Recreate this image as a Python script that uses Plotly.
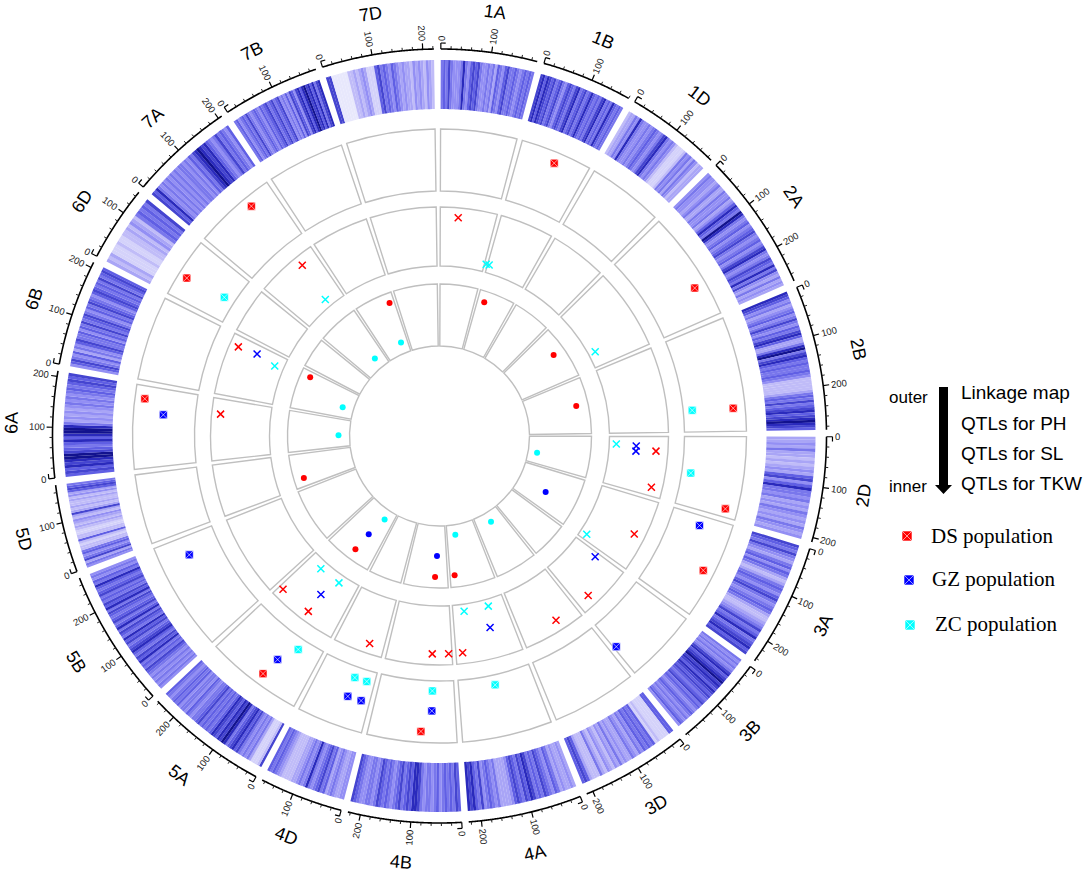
#!/usr/bin/env python3
import numpy as np
import plotly.graph_objects as go

# Circular genome plot: linkage map density on the outside, QTL tracks inside

CHROMS = ['1A', '1B', '1D', '2A', '2B', '2D', '3A', '3B', '3D', '4A', '4B',
          '4D', '5A', '5B', '5D', '6A', '6B', '6D', '7A', '7B', '7D']
LENGTHS = [191, 180, 189, 275, 287, 209, 246, 185, 213, 225, 225,
           166, 244, 274, 175, 211, 211, 150, 208, 193, 222]

# Marker density along each chromosome, 0 = palest, 9 = darkest
DENS_1A = [5,6,5,7,5,4,4,4,5,8,5,4,6,7,6,7,5,4,4,5,4,5,3,6,5,4,6,7,5,5,6,5,4,5,6,5,6,5]
DENS_1B = [7,8,6,8,7,6,7,5,6,7,5,4,6,7,6,5,7,8,5,6,7,5,6,8,6,5,6,5,7,8,5,6,5,8,6,5,6,5]
DENS_1D = [2,3,3,5,4,8,5,4,4,5,4,5,6,5,4,5,7,8,5,4,5,4,2,1,1,1,2,5,4,5,3,5,4,2,3,3]
DENS_2A = [4,5,4,4,3,4,5,3,3,5,4,4,5,3,4,6,8,6,5,9,8,5,4,5,6,4,5,6,7,5,4,5,6,4,5,7,8,5,4,5,7,6,5,8,5,7,4,3,5,3,4,3]
DENS_2B = [8,7,6,4,5,3,4,5,6,4,5,7,5,4,6,5,7,8,6,3,3,5,8,9,5,7,8,6,5,6,5,5,6,5,4,2,2,2,2,2,3,5,6,5,7,5,6,7,8,6,7,8,9,8,7,6]
DENS_2D = [3,3,4,3,5,3,3,2,3,2,3,4,3,6,7,4,6,8,5,5,4,5,3,4,3,5,4,3,4,3,5,4,3,4]
DENS_3A = [7,6,5,7,5,4,3,5,6,4,6,5,3,2,3,5,6,5,4,6,7,5,4,5,6,5,3,2,2,3,4,5,7,5,6,8,5,6,7,8,6,7]
DENS_3B = [5,4,5,4,5,4,5,7,8,6,7,8,9,7,8,7,6,8,7,6,7,6,5,6,7,5,6,5,4,5,6,5,4,5,4,5,6,4]
DENS_3D = [6,6,1,1,1,1,2,1,6,5,6,5,6,4,5,3,4,5,3,3,4,3,5,3,4,2,3,4,2,3,5,2,2,2,3,6,7,6]
DENS_4A = [3,4,3,3,4,3,5,6,4,5,6,7,5,6,5,7,8,6,7,5,6,7,6,4,3,3,3,3,5,4,5,6,5,4,7,5,6,8,7,8]
DENS_4B = [6,7,5,6,5,6,5,4,6,5,4,5,5,4,5,7,8,8,6,7,6,5,7,6,5,4,5,6,5,6,7,5,4,5,5,4,4,5,6,7]
DENS_4D = [4,4,3,3,4,5,4,3,6,5,7,6,5,4,5,8,5,4,5,4,3,3,2,2,2,2,3,4,5,6,5,6]
DENS_5A = [7,2,1,1,1,3,5,4,5,4,5,7,6,8,7,6,5,8,9,7,8,6,7,8,6,5,6,5,6,5,7,6,5,5,4,5,6,4,5,5,4,6,5,6,5,4,5,6]
DENS_5B = [4,5,4,5,4,5,4,5,6,7,5,6,5,8,6,7,5,6,8,7,6,5,7,6,8,5,6,7,5,8,6,5,7,6,5,6,7,5,8,6,7,5,6,5,7,6,5,6,8,5,6,4,5,4]
DENS_5D = [4,5,3,7,5,4,6,5,2,2,1,2,6,2,2,1,1,2,3,2,3,4,2,3,7,3,2,3,2,2,3,2,4,3,6,7,6,5]
DENS_6A = [6,7,6,8,7,8,9,9,7,6,5,6,8,6,8,9,9,8,5,3,4,3,4,3,4,5,4,5,4,5,6,5,6,7,6,7]
DENS_6B = [4,6,7,5,4,6,3,5,4,6,7,5,5,6,4,6,5,7,5,6,7,5,4,6,5,7,6,5,4,6,7,6,5,6,5,7,5,6,7,6]
DENS_6D = [3,2,3,1,1,1,2,1,1,2,2,3,2,4,3,2,5,6,5,6,5,7]
DENS_7A = [7,6,8,5,4,5,4,5,4,5,4,5,4,5,5,4,5,4,6,5,7,8,9,8,7,8,6,5,4,5,7,5,6,5,4,6]
DENS_7B = [5,6,4,5,6,5,7,5,4,5,6,5,4,6,5,6,7,5,6,7,5,6,7,4,5,4,6,4,7,6,4,7,8,6,8,9,7,8,6,8,5,7,8]
DENS_7D = [7,7,0,0,0,0,0,0,2,2,3,2,3,4,3,1,1,1,6,7,5,6,5,4,6,5,4,3,4,3,3,2,4,3,4,3,2,4,3,2]
DENSITY = [DENS_1A, DENS_1B, DENS_1D, DENS_2A, DENS_2B, DENS_2D, DENS_3A,
           DENS_3B, DENS_3D, DENS_4A, DENS_4B, DENS_4D, DENS_5A, DENS_5B,
           DENS_5D, DENS_6A, DENS_6B, DENS_6D, DENS_7A, DENS_7B, DENS_7D]

PH_DS_T = [22.8, 59.9, 84.6, 104.3, 117, 183.6, 216.6, 277.2, 302, 320.7]
PH_DS_R = [296, 295, 295, 295, 296, 296, 296, 297, 298, 297]
PH_GZ_T = [109, 140, 181.6, 199.4, 196.5, 215.9, 244.6, 274.4]
PH_GZ_R = [275, 275, 275, 276, 276, 276, 277, 277]
PH_ZC_T = [84.2, 98.4, 167.4, 181.6, 199.3, 196.5, 213.5, 302.8]
PH_ZC_R = [254, 254, 255, 255, 256, 256, 256, 256]

SL_DS_T = [4.9, 94, 103.6, 116.7, 137, 147.7, 173.9, 177.6, 181.9, 198.6, 216.8, 225.6, 275.7, 293.9, 321.2]
SL_DS_R = [219, 217, 218, 218, 218, 218, 218, 218, 218, 219, 219, 219, 220, 220, 219]
SL_GZ_T = [92.9, 94.4, 127.8, 165.2, 216.8, 294.2]
SL_GZ_R = [197, 197, 197, 198, 198, 200]
SL_ZC_T = [15.2, 16.2, 61.6, 92.6, 123.7, 164, 172, 214.4, 221.8, 293, 320.1]
SL_ZC_R = [178, 178, 177, 177, 177, 177, 177, 178, 178, 179, 178]

TKW_DS_T = [18.5, 54.6, 77.6, 173.8, 181.8, 216.6, 252.8, 294.4, 339.4]
TKW_DS_R = [141, 140, 140, 140, 141, 141, 142, 142, 142]
TKW_GZ_T = [117.8, 181.2, 215.8]
TKW_GZ_R = [120, 120, 121]
TKW_ZC_T = [99.7, 149, 170.9, 213.3, 270.4, 286.5, 320.2, 337.6]
TKW_ZC_R = [99, 100, 100, 100, 101, 101, 101, 101]

# Legend
TRACK_LABELS = ['Linkage map', 'QTLs for PH', 'QTLs for SL', 'QTLs for TKW']
POP_LABELS = ['DS population', 'GZ population', 'ZC population']
POP_COLORS = ['#ff0000', '#0000ff', '#00ffff']

WIDTH, HEIGHT = 1084, 875
CX, CY, RMAX = 439.5, 436, 430
GAP = 1.03
START = 0.2
DEG_PER_CM = (360 - GAP * len(CHROMS)) / sum(LENGTHS)
RINGS = [(245, 307), (170, 229), (90, 152)]
SCALE = [[0, '#e8e8fc'], [0.22, '#c0bcf8'], [0.44, '#9490f4'], [0.67, '#5f5ee4'],
         [0.89, '#2a2abc'], [1, '#12128e']]


def pos(theta, r):
    a = np.radians(theta)
    return CX + r * np.sin(a), CY - r * np.cos(a)


def radial_angle(theta):
    theta = theta % 360
    return theta - 90 if theta < 180 else theta - 270


def tangent_angle(theta):
    theta = theta % 360
    if 90 < theta < 270:
        return theta - 180
    return theta if theta <= 90 else theta - 360


starts = []
cur = START
for length in LENGTHS:
    starts.append(cur)
    cur += length * DEG_PER_CM + GAP
spans = [length * DEG_PER_CM for length in LENGTHS]
mids = [s + w / 2 for s, w in zip(starts, spans)]

fig = go.Figure()

# empty cells of the three QTL tracks
for inner, outer in RINGS:
    fig.add_trace(go.Barpolar(
        theta=mids, width=spans, base=[inner] * len(mids), r=[outer - inner] * len(mids),
        marker=dict(color='white', line=dict(color='#bfbfbf', width=1.4)),
        hoverinfo='skip', showlegend=False))

# density band
band_t, band_w, band_v = [], [], []
for s, w, dens in zip(starts, spans, DENSITY):
    step = w / len(dens)
    for i, v in enumerate(dens):
        band_t.append(s + (i + 0.5) * step)
        band_w.append(step + 0.02)
        band_v.append(v)
fig.add_trace(go.Barpolar(
    theta=band_t, width=band_w, base=[327] * len(band_t), r=[49] * len(band_t),
    marker=dict(color=band_v, cmin=0, cmax=9, colorscale=SCALE, line=dict(width=0)),
    hoverinfo='skip', showlegend=False))

# axis arcs and ticks
arc_t, arc_r, minor_t, minor_r, major_t, major_r = [], [], [], [], [], []
R_AXIS = 387
for s, length in zip(starts, LENGTHS):
    cms = list(range(0, length, 2)) + [length]
    arc_t += [s + c * DEG_PER_CM for c in cms] + [None]
    arc_r += [R_AXIS] * len(cms) + [None]
    for c in range(0, length + 1, 20):
        t = s + c * DEG_PER_CM
        if c % 100 == 0:
            major_t += [t, t, None]
            major_r += [R_AXIS, R_AXIS + 6, None]
        else:
            minor_t += [t, t, None]
            minor_r += [R_AXIS, R_AXIS + 3, None]
    # small hook on the zero tick
    major_t += [s, s + 0.7, None]
    major_r += [R_AXIS + 6, R_AXIS + 6, None]
fig.add_trace(go.Scatterpolar(theta=arc_t, r=arc_r, mode='lines', line=dict(color='black', width=1.6),
                              hoverinfo='skip', showlegend=False))
fig.add_trace(go.Scatterpolar(theta=minor_t, r=minor_r, mode='lines', line=dict(color='#222', width=1),
                              hoverinfo='skip', showlegend=False))
fig.add_trace(go.Scatterpolar(theta=major_t, r=major_r, mode='lines', line=dict(color='black', width=1.2),
                              hoverinfo='skip', showlegend=False))

# QTL tracks
square = dict(symbol='square-x', size=8, line=dict(color='white', width=0.6))
tracks = [
    (PH_DS_T, PH_DS_R, POP_COLORS[0], square), (PH_GZ_T, PH_GZ_R, POP_COLORS[1], square),
    (PH_ZC_T, PH_ZC_R, POP_COLORS[2], square),
    (SL_DS_T, SL_DS_R, POP_COLORS[0], None), (SL_GZ_T, SL_GZ_R, POP_COLORS[1], None),
    (SL_ZC_T, SL_ZC_R, POP_COLORS[2], None),
    (TKW_DS_T, TKW_DS_R, POP_COLORS[0], 'c'), (TKW_GZ_T, TKW_GZ_R, POP_COLORS[1], 'c'),
    (TKW_ZC_T, TKW_ZC_R, POP_COLORS[2], 'c'),
]
for t, r, color, kind in tracks:
    if kind is None:
        m = dict(symbol='x-thin', size=7, line=dict(color=color, width=1.5))
    elif kind == 'c':
        m = dict(symbol='circle', size=6, color=color)
    else:
        m = dict(kind, color=color)
    fig.add_trace(go.Scatterpolar(theta=t, r=r, mode='markers', marker=m, hoverinfo='skip', showlegend=False))

# legend markers live on a hidden pixel-sized cartesian axis
fig.add_trace(go.Scatter(x=[907, 909, 910], y=[536, 580, 625], mode='markers',
                         marker=dict(square, color=POP_COLORS, size=10), hoverinfo='skip', showlegend=False))

ann = []
for name, mid in zip(CHROMS, mids):
    x, y = pos(mid, 428)
    ann.append(dict(x=x, y=y, text=name, textangle=tangent_angle(mid),
                    font=dict(family='Liberation Sans', size=18, color='black')))
for s, length in zip(starts, LENGTHS):
    for c in range(0, length + 1, 100):
        t = s + c * DEG_PER_CM
        x, y = pos(t, 398 if c == 0 else 403)
        ann.append(dict(x=x, y=y, text=str(c), textangle=radial_angle(t),
                        font=dict(family='Liberation Sans', size=9.5, color='#222')))

for text, x, y in zip(TRACK_LABELS, [959] * 4, [392, 423, 453, 483]):
    ann.append(dict(x=x, y=y, text=text, xanchor='left',
                    font=dict(family='Liberation Sans', size=19, color='black')))
ann.append(dict(x=887, y=397, text='outer', xanchor='left', font=dict(family='Liberation Sans', size=17, color='black')))
ann.append(dict(x=887, y=486, text='inner', xanchor='left', font=dict(family='Liberation Sans', size=17, color='black')))
for text, x, y in zip(POP_LABELS, [929, 930, 933], [536, 579, 624]):
    ann.append(dict(x=x, y=y, text=text, xanchor='left',
                    font=dict(family='Liberation Serif', size=21, color='black')))
for a in ann:
    a.update(xref='x', yref='y', showarrow=False)

fig.update_layout(
    width=WIDTH, height=HEIGHT, margin=dict(l=0, r=0, t=0, b=0),
    paper_bgcolor='white', plot_bgcolor='rgba(0,0,0,0)',
    xaxis=dict(range=[0, WIDTH], visible=False, domain=[0, 1]),
    yaxis=dict(range=[HEIGHT, 0], visible=False, domain=[0, 1]),
    polar=dict(
        domain=dict(x=[(CX - RMAX) / WIDTH, (CX + RMAX) / WIDTH],
                    y=[(HEIGHT - CY - RMAX) / HEIGHT, (HEIGHT - CY + RMAX) / HEIGHT]),
        bgcolor='rgba(0,0,0,0)',
        radialaxis=dict(range=[0, RMAX], visible=False),
        angularaxis=dict(rotation=90, direction='clockwise', visible=False),
    ),
    annotations=ann,
    shapes=[dict(type='path', xref='x', yref='y', fillcolor='black', line=dict(width=0),
                 path='M 939 387 L 948 387 L 948 485 L 952 485 L 943.5 494 L 935 485 L 939 485 Z')],
)
# the default body margin would push the fixed-size figure off the window
fig.write_html("out.html", config={'displayModeBar': False},
               post_script="document.body.style.margin='0';")
